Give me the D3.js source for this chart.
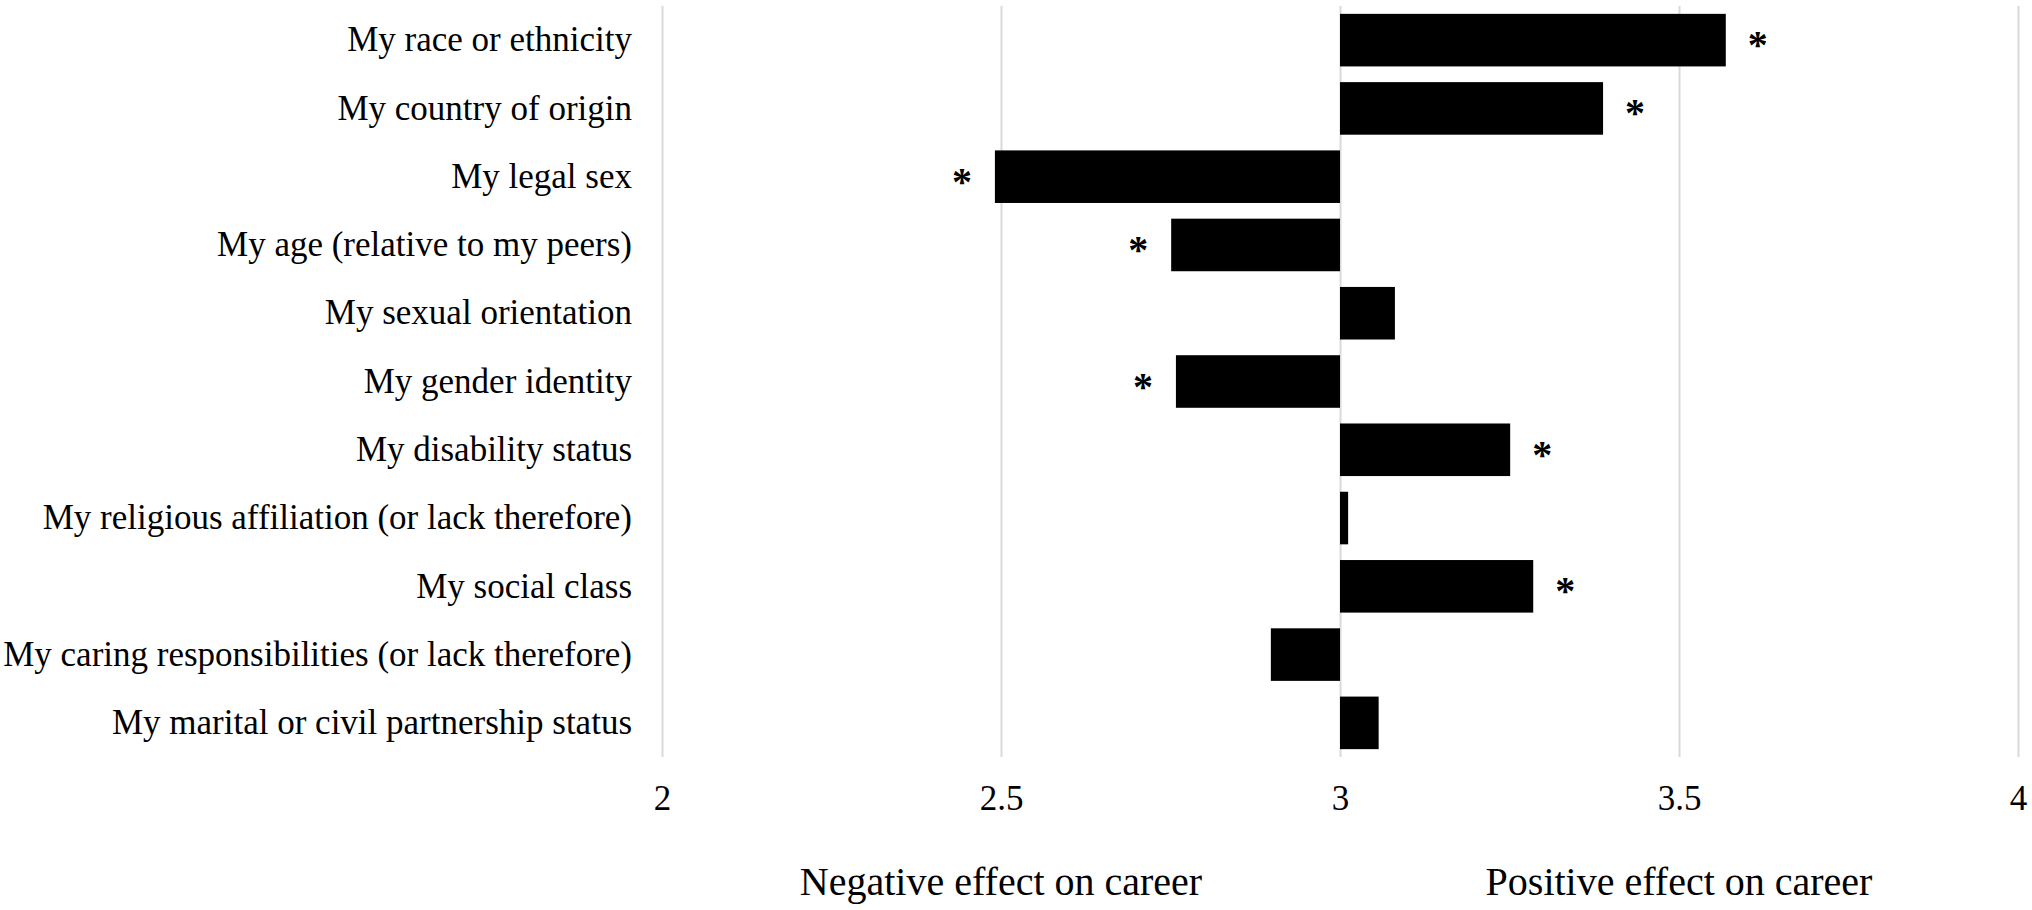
<!DOCTYPE html>
<html>
<head>
<meta charset="utf-8">
<script src="https://cdn.jsdelivr.net/npm/d3@7"></script>
<style>
  body { margin: 0; background: #fff; }
  text { font-family: "Liberation Serif", "Times New Roman", serif; fill: #000; }
</style>
</head>
<body>
<div id="chart"></div>
<script>
var categories = [
  "My race or ethnicity",
  "My country of origin",
  "My legal sex",
  "My age (relative to my peers)",
  "My sexual orientation",
  "My gender identity",
  "My disability status",
  "My religious affiliation (or lack therefore)",
  "My social class",
  "My caring responsibilities (or lack therefore)",
  "My marital or civil partnership status"
];
var means = [3.569, 3.388, 2.491, 2.751, 3.081, 2.758, 3.251, 3.012, 3.285, 2.898, 3.057];
var significant = [true, true, true, true, false, true, true, false, true, false, false];
var xTicks = [2, 2.5, 3, 3.5, 4];
var axisTitles = [
  {label: "Negative effect on career", at: 2.5},
  {label: "Positive effect on career", at: 3.5}
];
var neutral = 3;

var width = 2032, height = 910;
var margin = {top: 6, right: 14, bottom: 153, left: 662};

var data = categories.map(function(c, i) {
  return {name: c, value: means[i], sig: significant[i]};
});

var x = d3.scaleLinear()
  .domain([2, 4])
  .range([margin.left, width - margin.right]);

var y = d3.scaleBand()
  .domain(categories)
  .range([margin.top, height - margin.bottom])
  .paddingInner(0.23)
  .paddingOuter(0.115);

var svg = d3.select('#chart')
  .append('svg')
  .attr('width', width)
  .attr('height', height);

// gridlines
var grid = svg.append('g')
  .attr('class', 'grid')
  .attr('transform', 'translate(0,' + (height - margin.bottom) + ')')
  .call(d3.axisBottom(x)
    .tickValues(xTicks)
    .tickSize(-(height - margin.bottom - margin.top))
    .tickFormat(''));
grid.select('.domain').remove();
grid.selectAll('line')
  .attr('stroke', '#d9d9d9')
  .attr('stroke-width', 2);

// x tick labels
var xAxis = svg.append('g')
  .attr('transform', 'translate(0,' + (height - margin.bottom) + ')')
  .call(d3.axisBottom(x)
    .tickValues(xTicks)
    .tickSize(0)
    .tickPadding(28)
    .tickFormat(d3.format('')));
xAxis.select('.domain').remove();
xAxis.selectAll('text')
  .attr('font-size', '35px')
  .style('font-family', '"Liberation Serif", "Times New Roman", serif');

// category labels
var yAxis = svg.append('g')
  .attr('transform', 'translate(' + margin.left + ',0)')
  .call(d3.axisLeft(y).tickSize(0).tickPadding(30));
yAxis.select('.domain').remove();
yAxis.selectAll('text')
  .attr('font-size', '35px')
  .style('font-family', '"Liberation Serif", "Times New Roman", serif');

// bars
svg.append('g')
  .selectAll('rect')
  .data(data)
  .enter().append('rect')
    .attr('x', function(d) { return x(Math.min(d.value, neutral)); })
    .attr('y', function(d) { return y(d.name); })
    .attr('width', function(d) { return Math.abs(x(d.value) - x(neutral)); })
    .attr('height', y.bandwidth())
    .attr('fill', '#000');

// significance markers
svg.append('g')
  .selectAll('text')
  .data(data.filter(function(d) { return d.sig; }))
  .enter().append('text')
    .attr('x', function(d) {
      return d.value >= neutral ? x(d.value) + 32 : x(d.value) - 33;
    })
    .attr('y', function(d) { return y(d.name) + y.bandwidth() / 2; })
    .attr('dy', '0.45em')
    .attr('text-anchor', 'middle')
    .attr('font-size', '40px')
    .attr('font-weight', 'bold')
    .text('*');

// axis titles
svg.append('g')
  .selectAll('text')
  .data(axisTitles)
  .enter().append('text')
    .attr('x', function(d) { return x(d.at); })
    .attr('y', 895)
    .attr('text-anchor', 'middle')
    .attr('font-size', '40px')
    .text(function(d) { return d.label; });
</script>
</body>
</html>
